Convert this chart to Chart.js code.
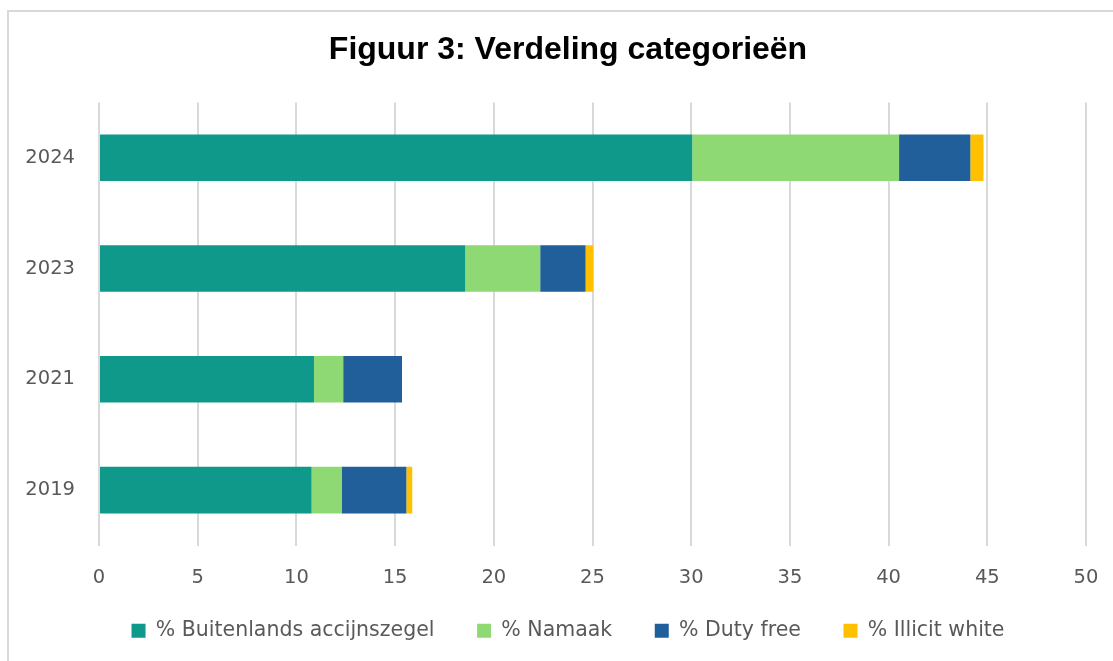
<!DOCTYPE html>
<html>
<head>
<meta charset="utf-8">
<script src="https://cdn.jsdelivr.net/npm/chart.js@4"></script>
<style>
  html, body { margin: 0; padding: 0; background: #fff; }
  .frame {
    position: absolute; left: 7px; top: 10px; right: 0; bottom: 0;
    border-left: 2px solid #d9d9d9; border-top: 2px solid #d9d9d9;
  }
  .wrap { position: absolute; left: 0; top: 0; width: 1113px; height: 661px; }
</style>
</head>
<body>
<div class="frame"></div>
<div class="wrap"><canvas id="chart-verdeling"></canvas></div>
<script>
// jaren en aandelen per categorie (%)
const years = ['2024', '2023', '2021', '2019'];
const buitenlands = [30.05, 18.55, 10.89, 10.77];
const namaak = [10.48, 3.8, 1.48, 1.52];
const dutyFree = [3.61, 2.3, 2.98, 3.28];
const illicitWhite = [0.67, 0.38, 0, 0.3];

const seriesNames = ['% Buitenlands accijnszegel', '% Namaak', '% Duty free', '% Illicit white'];
const seriesColors = ['#0e998a', '#8fd974', '#215f9a', '#ffc000'];
const xTicks = [0, 5, 10, 15, 20, 25, 30, 35, 40, 45, 50];

const textGray = '#595959';
const fontFamily = '"DejaVu Sans", sans-serif';

const chartBox = document.querySelector('#chart-verdeling');
const chartData = {
  labels: years,
  datasets: [buitenlands, namaak, dutyFree, illicitWhite].map((vals, i) => ({
    label: seriesNames[i],
    data: vals,
    backgroundColor: seriesColors[i],
    borderWidth: 0,
    categoryPercentage: 1,
    barPercentage: 0.42
  }))
};

const chartOptions = {
  indexAxis: 'y',
  responsive: true,
  maintainAspectRatio: false,
  animation: false,
  layout: { padding: { left: 23, right: 0, top: 0, bottom: 10 } },
  plugins: {
    title: {
      display: true,
      text: 'Figuur 3: Verdeling categorieën',
      color: '#000',
      font: { family: '"Liberation Sans", Arial, sans-serif', size: 32, weight: 'bold' },
      padding: { top: 31, bottom: 33 }
    },
    legend: {
      position: 'bottom',
      labels: {
        color: textGray,
        font: { family: fontFamily, size: 20.5 },
        boxWidth: 14,
        boxHeight: 14,
        padding: 10,
        // extra ruimte tussen de items, zonder de legenda hoger te maken
        generateLabels: chart => {
          const items = Chart.defaults.plugins.legend.labels.generateLabels(chart);
          items.forEach((item, i) => {
            if (i < items.length - 1) item.text += '     ';
          });
          return items;
        }
      }
    },
    tooltip: { enabled: false }
  },
  scales: {
    x: {
      stacked: true,
      min: 0,
      max: 50,
      afterBuildTicks: axis => { axis.ticks = xTicks.map(v => ({ value: v })); },
      afterFit: axis => { axis.height = 65; },
      border: { display: false },
      // onzichtbare tick-streepjes geven de afstand tot de labels
      grid: { color: '#d9d9d9', lineWidth: 2, drawTicks: true, tickLength: 21, tickColor: 'rgba(0,0,0,0)' },
      ticks: { color: textGray, font: { family: fontFamily, size: 19.5 }, padding: 0 }
    },
    y: {
      stacked: true,
      afterFit: axis => { axis.width = 76; },
      border: { display: false },
      grid: { display: false, drawTicks: false },
      ticks: { color: textGray, font: { family: fontFamily, size: 19.5 }, padding: 24 }
    },
    // lege as rechts, houdt ruimte vrij naast de laatste rasterlijn
    yRight: {
      type: 'category',
      position: 'right',
      afterFit: axis => { axis.width = 27; },
      border: { display: false },
      grid: { display: false, drawTicks: false },
      ticks: { display: false }
    }
  }
};

const chartInstance = new Chart(chartBox, {
  type: 'bar',
  data: chartData,
  options: chartOptions
});
</script>
</body>
</html>
